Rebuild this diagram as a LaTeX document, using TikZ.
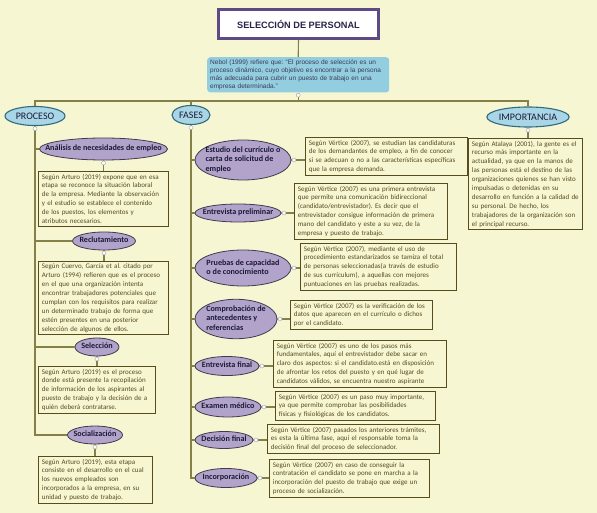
\documentclass[tikz,border=0pt]{standalone}
\usepackage{fontspec}
\setmainfont{Carlito}
\newfontfamily\arialf{Liberation Sans}
\usepackage{xcolor}
\usetikzlibrary{shapes.geometric}
\hyphenpenalty=10000
\frenchspacing

\definecolor{fondo}{HTML}{F6F6D3}
\definecolor{rama}{HTML}{858048}
\definecolor{borde}{HTML}{564C1C}
\definecolor{texto}{HTML}{574A1C}
\definecolor{lila}{HTML}{B2A3CB}
\definecolor{bordelila}{HTML}{3F3B4F}
\definecolor{celeste}{HTML}{A9D6E6}
\definecolor{azulborde}{HTML}{2F6B7F}
\definecolor{nebolfill}{HTML}{93CDE0}
\definecolor{morado}{HTML}{5E4A86}
\definecolor{tinta}{HTML}{1A1A36}
\definecolor{knobgris}{HTML}{9AA0B4}

\newcommand{\elab}[1]{\makebox[0pt]{\begin{tabular}{@{}l@{}}#1\end{tabular}}}

\tikzset{
	rama/.style={draw=rama, line width=1.1pt},
	knob/.style={draw=knobgris, fill=white, line width=0.4pt},
	cabeza/.style={ellipse, draw=azulborde, line width=1.1pt, fill=celeste, text=tinta,
		font=\fontsize{10}{11}\selectfont, inner sep=0pt},
	paso/.style={ellipse, draw=bordelila, line width=0.8pt, fill=lila, text=tinta,
		font=\bfseries\fontsize{8.1}{9.3}\selectfont, inner sep=0pt},
	nota/.style={draw=borde, line width=0.8pt, fill=fondo, text=texto, anchor=north west,
		align=left, inner xsep=3.5pt, inner ysep=2.5pt, font=\fontsize{7}{8.9}\selectfont},
}

\begin{document}
\begin{tikzpicture}[x=1pt, y=-1pt]
		\fill[fondo] (0,0) rectangle (597,513);
		\useasboundingbox (0,0) rectangle (597,513);
		
		% titulo y cita
		\node[draw=morado, line width=2.6pt, fill=white, minimum width=160pt, minimum height=29pt,
			text=tinta!80!morado, font=\arialf\bfseries\fontsize{9.2}{10}\selectfont] (tit) at (298.5,24) {SELECCIÓN DE PERSONAL};
		\node[fill=nebolfill, rounded corners=3pt, anchor=north west, align=left, text width=176pt,
			inner xsep=3pt, inner ysep=2.5pt, text=tinta!85,
			font=\arialf\fontsize{6.5}{8}\selectfont] (neb) at (207,57)
			{Nebol (1999) refiere que: “El proceso de selección es un\\
			proceso dinámico, cuyo objetivo es encontrar a la persona\\
			más adecuada para cubrir un puesto de trabajo en una\\
			empresa determinada.”};
		
		\coordinate (bus) at (298,101);
		
		\node[cabeza, minimum width=60pt, minimum height=19pt] (proceso) at (35,116) {PROCESO};
		\node[cabeza, minimum width=38pt, minimum height=19pt] (fases) at (191,115) {FASES};
		\node[cabeza, minimum width=74pt, minimum height=20pt] (imp) at (528,117) {IMPORTANCIA};
		
		% proceso
		\node[paso, minimum width=128pt, minimum height=22pt] (ana) at (103.5,149) {\elab{Análisis de necesidades de empleo}};
		\node[nota, text width=123pt] (anabox) at (38,171)
			{Según Arturo (2019) expone que en esa\\
			etapa se reconoce la situación laboral\\
			de la empresa. Mediante la observación\\
			y el estudio se establece el contenido\\
			de los puestos, los elementos y\\
			atributos necesarios.};
		\node[paso, minimum width=63pt, minimum height=18pt] (rec) at (104,241) {\elab{Reclutamiento}};
		\node[nota, text width=123pt] (recbox) at (38,261)
			{Según Cuervo, García et al. citado por\\
			Arturo (1994) refieren que es el proceso\\
			en el que una organización intenta\\
			encontrar trabajadores potenciales que\\
			cumplan con los requisitos para realizar\\
			un determinado trabajo de forma que\\
			estén presentes en una posterior\\
			selección de algunos de ellos.};
		\node[paso, minimum width=44pt, minimum height=18pt] (sel) at (97,347) {\elab{Selección}};
		\node[nota, text width=110pt] (selbox) at (38,366)
			{Según Arturo (2019) es el proceso\\
			donde está presente la recopilación\\
			de información de los aspirantes al\\
			puesto de trabajo y la decisión de a\\
			quién deberá contratarse.};
		\node[paso, minimum width=55pt, minimum height=18pt] (soc) at (95,435) {\elab{Socialización}};
		\node[nota, text width=107pt] (socbox) at (38,456)
			{Según Arturo (2019), esta etapa\\
			consiste en el desarrollo en el cual\\
			los nuevos empleados son\\
			incorporados a la empresa, en su\\
			unidad y puesto de trabajo.};
		
		% fases
		\node[paso, minimum width=96pt, minimum height=40pt] (est) at (243,160) {\elab{Estudio del currículo o\\carta de solicitud de\\empleo}};
		\node[nota, text width=155pt] (estbox) at (305,137)
			{Según Vértice (2007), se estudian las candidaturas\\
			de los demandantes de empleo, a fin de conocer\\
			si se adecuan o no a las características específicas\\
			que la empresa demanda.};
		\node[paso, minimum width=86pt, minimum height=18pt] (epre) at (238,213) {\elab{Entrevista preliminar}};
		\node[nota, text width=146pt] (eprebox) at (294,183)
			{Según Vértice (2007) es una primera entrevista\\
			que permite una comunicación bidireccional\\
			(candidato/entrevistador). Es decir que el\\
			entrevistador consigue información de primera\\
			mano del candidato y este a su vez, de la\\
			empresa y puesto de trabajo.};
		\node[paso, minimum width=96pt, minimum height=36pt] (pru) at (243,268) {\elab{Pruebas de capacidad\\o de conocimiento}};
		\node[nota, text width=149pt] (prubox) at (300,243)
			{Según Vértice (2007), mediante el uso de\\
			procedimiento estandarizados se tamiza el total\\
			de personas seleccionadas(a través de estudio\\
			de sus currículum), a aquellas con mejores\\
			puntuaciones en las pruebas realizadas.};
		\node[paso, minimum width=82pt, minimum height=38pt] (com) at (236,319) {\elab{Comprobación de\\antecedentes y\\referencias}};
		\node[nota, text width=135pt] (combox) at (290,300)
			{Según Vértice (2007) es la verificación de los\\
			datos que aparecen en el currículo o dichos\\
			por el candidato.};
		\node[paso, minimum width=64pt, minimum height=19pt] (efin) at (227,366) {\elab{Entrevista final}};
		\node[nota, text width=166pt] (efinbox) at (273,340)
			{Según Vértice (2007) es uno de los pasos más\\
			fundamentales, aquí el entrevistador debe sacar en\\
			claro dos aspectos: si el candidato.está en disposición\\
			de afrontar los retos del puesto y en qué lugar de\\
			candidatos válidos, se encuentra nuestro aspirante};
		\node[paso, minimum width=66pt, minimum height=20pt] (exa) at (228,407) {\elab{Examen médico}};
		\node[nota, text width=153pt] (exabox) at (275,391)
			{Según Vértice (2007) es un paso muy importante,\\
			ya que permite comprobar las posibilidades\\
			físicas y fisiológicas de los candidatos.};
		\node[paso, minimum width=58pt, minimum height=17pt] (dec) at (224,440) {\elab{Decisión final}};
		\node[nota, text width=165pt] (decbox) at (267,424)
			{Según Vértice (2007) pasados los anteriores trámites,\\
			es esta la última fase, aquí el responsable toma la\\
			decisión final del proceso de seleccionador.};
		\node[paso, minimum width=62pt, minimum height=19pt] (inc) at (226,478) {\elab{Incorporación}};
		\node[nota, text width=153pt] (incbox) at (269,459)
			{Según Vértice (2007) en caso de conseguir la\\
			contratación el candidato se pone en marcha a la\\
			incorporación del puesto de trabajo que exige un\\
			proceso de socialización.};
		
		% importancia
		\node[nota, text width=107pt] (impbox) at (468,138)
			{Según Atalaya (2001), la gente es el\\
			recurso más importante en la\\
			actualidad, ya que en la manos de\\
			las personas está el destino de las\\
			organizaciones quienes se han visto\\
			impulsadas o detenidas en su\\
			desarrollo en función a la calidad de\\
			su personal. De hecho, los\\
			trabajadores de la organización son\\
			el principal recurso.};
		
		% ramas
		\draw[rama] (tit.south) -- (neb.north);
		\draw[rama] (neb.south) -- (neb.south |- bus);
		\draw[rama] (proceso.north) |- (bus) -| (imp.north);
		\draw[rama] (fases.north) -- (fases.north |- bus);
		\draw[rama] (imp.south) -- (imp.south |- impbox.north);
		
		\draw[rama] (proceso.south) |- (soc.west);
		\foreach \n in {ana, rec, sel}
			\draw[rama] (proceso.south |- \n.west) -- (\n.west);
		\foreach \n in {ana, rec, sel, soc}
			\draw[rama] (\n.south) -- (\n.south |- \n box.north);
		
		\draw[rama] (fases.south) |- (inc.west);
		\foreach \n in {est, epre, pru, com, efin, exa, dec}
			\draw[rama] (fases.south |- \n.west) -- (\n.west);
		\foreach \n in {est, epre, pru, com, efin, exa, dec, inc}
			\draw[rama] (\n.east) -- (\n.east -| \n box.west);
		
		% botones de plegado
		\foreach \n in {proceso, fases, imp, ana, rec, sel, soc}
			\draw[knob] ([yshift=-2.6pt]\n.south) circle (2pt);
		\foreach \n in {est, epre, pru, com, efin, exa, dec, inc}
			\draw[knob] ([xshift=2.6pt]\n.east) circle (2pt);
		\draw[knob] ([yshift=-2.6pt]neb.south) circle (2pt);
\end{tikzpicture}
\end{document}
